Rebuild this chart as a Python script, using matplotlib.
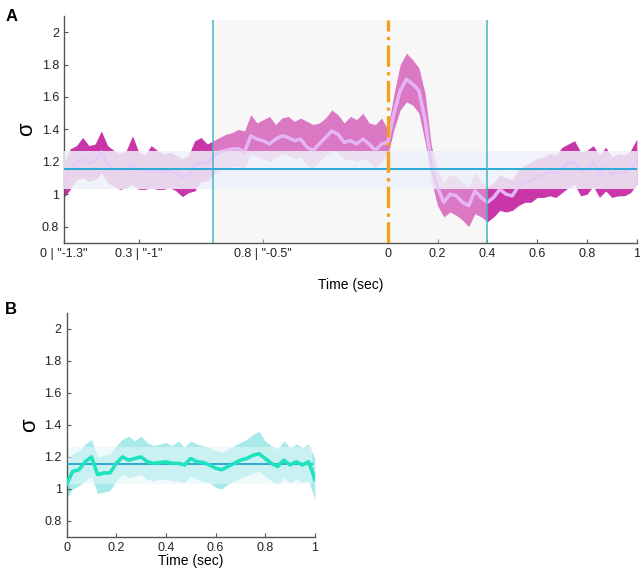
import numpy as np
import matplotlib
matplotlib.use('Agg')
import matplotlib.pyplot as plt

plt.rcParams['font.family'] = ['Liberation Sans', 'DejaVu Sans']

# ---- Panel A data (time axis: 0..1.3 pre-stimulus, then 0..1 sec post) ----
time_a = np.round(np.arange(0, 2.3001, 0.025), 3)
mean_a = [1.08, 1.15, 1.20, 1.215, 1.19, 1.20, 1.26, 1.185, 1.16, 1.145,
          1.15, 1.18, 1.15, 1.14, 1.15, 1.14, 1.14, 1.14, 1.13, 1.105,
          1.12, 1.18, 1.20, 1.19, 1.235,
          1.26, 1.27, 1.28, 1.28, 1.26, 1.36, 1.34, 1.33, 1.31, 1.34,
          1.36, 1.35, 1.33, 1.34, 1.29, 1.27, 1.31, 1.35, 1.39, 1.37,
          1.32, 1.33, 1.31, 1.34, 1.31, 1.27, 1.31, 1.32,
          1.50, 1.64, 1.71, 1.68, 1.64, 1.46, 1.18, 1.04, 0.95, 1.00,
          0.99, 0.95, 0.93, 1.02, 0.98, 0.95,
          0.98, 1.03, 1.00, 0.99, 1.05, 1.07, 1.08, 1.11, 1.12, 1.14,
          1.13, 1.16, 1.19, 1.20, 1.14, 1.15, 1.20, 1.12, 1.17, 1.12,
          1.14, 1.13, 1.16, 1.20]
upper_a = [1.20, 1.28, 1.30, 1.35, 1.30, 1.31, 1.39, 1.30, 1.27, 1.25,
           1.27, 1.36, 1.26, 1.24, 1.30, 1.27, 1.25, 1.26, 1.24, 1.22,
           1.24, 1.33, 1.35, 1.31, 1.33,
           1.35, 1.37, 1.38, 1.40, 1.39, 1.49, 1.44, 1.46, 1.48, 1.43,
           1.47, 1.48, 1.45, 1.47, 1.45, 1.43, 1.44, 1.47, 1.52, 1.49,
           1.44, 1.48, 1.46, 1.50, 1.44, 1.43, 1.47, 1.40,
           1.62, 1.80, 1.87, 1.83, 1.78, 1.62, 1.30, 1.15, 1.07, 1.12,
           1.11, 1.07, 1.05, 1.13, 1.08, 1.05,
           1.07, 1.12, 1.10, 1.09, 1.15, 1.18, 1.20, 1.22, 1.23, 1.25,
           1.24, 1.29, 1.31, 1.33, 1.26, 1.27, 1.30, 1.24, 1.29, 1.23,
           1.25, 1.24, 1.27, 1.34]
lower_a = [0.98, 1.03, 1.09, 1.10, 1.08, 1.09, 1.13, 1.07, 1.05, 1.03,
           1.04, 1.06, 1.03, 1.03, 1.04, 1.03, 1.03, 1.04, 1.02, 0.985,
           1.01, 1.02, 1.08, 1.08, 1.12,
           1.15, 1.16, 1.17, 1.17, 1.15, 1.25, 1.23, 1.22, 1.20, 1.23,
           1.25, 1.24, 1.22, 1.23, 1.18, 1.16, 1.20, 1.24, 1.27, 1.26,
           1.21, 1.22, 1.20, 1.22, 1.20, 1.16, 1.20, 1.24,
           1.40, 1.52, 1.57, 1.55, 1.50, 1.32, 1.08, 0.93, 0.86, 0.89,
           0.87, 0.84, 0.80, 0.88, 0.86, 0.83,
           0.86, 0.90, 0.89, 0.90, 0.93, 0.95, 0.95, 0.98, 0.98, 0.99,
           0.98, 1.01, 1.04, 1.06, 0.99, 1.00, 1.05, 0.98, 1.02, 0.98,
           0.99, 0.99, 1.01, 1.06]
tick_pos_a = [0, 0.3, 0.8, 1.3, 1.5, 1.7, 1.9, 2.1, 2.3]
tick_lab_a = ['0 | "-1.3"', '0.3 | "-1"', '0.8 | "-0.5"',
              '0', '0.2', '0.4', '0.6', '0.8', '1']
window_a = (0.6, 1.7)
onset_a = 1.3
baseline_mean = 1.155
baseline_band = (1.03, 1.265)

# ---- Panel B data ----
time_b = np.round(np.arange(0, 1.0001, 0.025), 3)
mean_b = [1.03, 1.11, 1.12, 1.17, 1.20, 1.09, 1.10, 1.10, 1.16, 1.20,
          1.18, 1.19, 1.20, 1.17, 1.16, 1.165, 1.17, 1.16, 1.16, 1.15,
          1.19, 1.17, 1.165, 1.15, 1.13, 1.12, 1.14, 1.16, 1.18, 1.19,
          1.21, 1.22, 1.19, 1.16, 1.14, 1.18, 1.15, 1.17, 1.15, 1.17,
          1.06]
upper_b = [1.15, 1.22, 1.24, 1.28, 1.31, 1.20, 1.21, 1.22, 1.27, 1.31,
           1.33, 1.30, 1.33, 1.29, 1.27, 1.28, 1.29, 1.27, 1.30, 1.26,
           1.30, 1.28, 1.27, 1.26, 1.24, 1.23, 1.25, 1.27, 1.29, 1.31,
           1.34, 1.36, 1.30, 1.27, 1.25, 1.30, 1.26, 1.28, 1.26, 1.28,
           1.19]
lower_b = [0.94, 1.00, 1.02, 1.05, 1.08, 0.97, 0.98, 0.99, 1.05, 1.09,
           1.07, 1.08, 1.09, 1.06, 1.05, 1.06, 1.06, 1.05, 1.05, 1.04,
           1.08, 1.06, 1.05, 1.04, 1.01, 1.00, 1.03, 1.05, 1.07, 1.08,
           1.10, 1.11, 1.08, 1.05, 1.03, 1.07, 1.04, 1.06, 1.04, 1.05,
           0.93]
tick_pos_b = [0, 0.2, 0.4, 0.6, 0.8, 1.0]
tick_lab_b = ['0', '0.2', '0.4', '0.6', '0.8', '1']

ytick_pos = [0.8, 1.0, 1.2, 1.4, 1.6, 1.8, 2.0]
ytick_lab = ['0.8', '1', '1.2', '1.4', '1.6', '1.8', '2']
ylim = (0.7, 2.1)
vtop = 2.075


def style_axes(ax):
    for s in ['top', 'right']:
        ax.spines[s].set_visible(False)
    for s in ['left', 'bottom']:
        ax.spines[s].set_color('#555555')
        ax.spines[s].set_linewidth(1.0)
    ax.tick_params(direction='in', length=3, width=0.8, colors='#555555',
                   labelcolor='#222222', labelsize=9)
    ax.set_ylim(*ylim)
    ax.set_yticks(ytick_pos)
    ax.set_yticklabels(ytick_lab)
    ax.set_ylabel('σ', fontsize=16, labelpad=3)


fig = plt.figure(figsize=(6.4, 5.7), dpi=100)

# Panel A
ax1 = fig.add_axes([0.1, 0.574, 0.895, 0.398])
frac = (vtop - ylim[0]) / (ylim[1] - ylim[0])
ax1.axvspan(*window_a, ymin=0, ymax=frac, color='#f4f4f6', lw=0, zorder=0)
ax1.fill_between(time_a, lower_a, upper_a, color='#c936a8', lw=0, zorder=1)
ax1.axvspan(*window_a, ymin=0, ymax=frac, color='#ffffff', alpha=0.33,
            lw=0, zorder=2)
ax1.plot(time_a, mean_a, color='#f0c2f8', lw=2.4, zorder=3)
ax1.axhspan(*baseline_band, color='#eef1f8', alpha=0.85, lw=0, zorder=4)
ax1.plot(time_a, mean_a, color='#d8a4f0', lw=2.2, alpha=0.45, zorder=5)
ax1.axhline(baseline_mean, color='#2aa9d6', lw=1.4, zorder=6)
ax1.vlines(list(window_a), ylim[0], vtop, color='#45b5c6', lw=1.1, zorder=6)
ax1.vlines(onset_a, ylim[0], vtop, color='#f5a01a', lw=2.4,
           linestyles='dashdot', zorder=7)
ax1.set_xlim(0, 2.3)
style_axes(ax1)
ax1.set_xticks(tick_pos_a)
ax1.set_xticklabels(tick_lab_a)
ax1.set_xlabel('Time (sec)', fontsize=10, labelpad=13)

# Panel B
ax2 = fig.add_axes([0.104, 0.058, 0.388, 0.393])
ax2.fill_between(time_b, lower_b, upper_b, color='#a8eaea', lw=0, zorder=1)
ax2.axhspan(*baseline_band, xmax=0.99, color='#e6f7f8', alpha=0.55, lw=0,
            zorder=2)
ax2.axhline(baseline_mean, xmax=0.99, color='#2fa8d2', lw=1.4, zorder=3)
ax2.plot(time_b, mean_b, color='#1fe3bf', lw=2.6, zorder=4)
ax2.set_xlim(0, 1)
style_axes(ax2)
ax2.set_xticks(tick_pos_b)
ax2.set_xticklabels(tick_lab_b)
ax2.set_xlabel('Time (sec)', fontsize=10, labelpad=0)

fig.text(0.008, 0.985, 'A', fontsize=12, fontweight='bold', va='top')
fig.text(0.008, 0.47, 'B', fontsize=12, fontweight='bold', va='top')

fig.savefig('out.png', dpi=100)
